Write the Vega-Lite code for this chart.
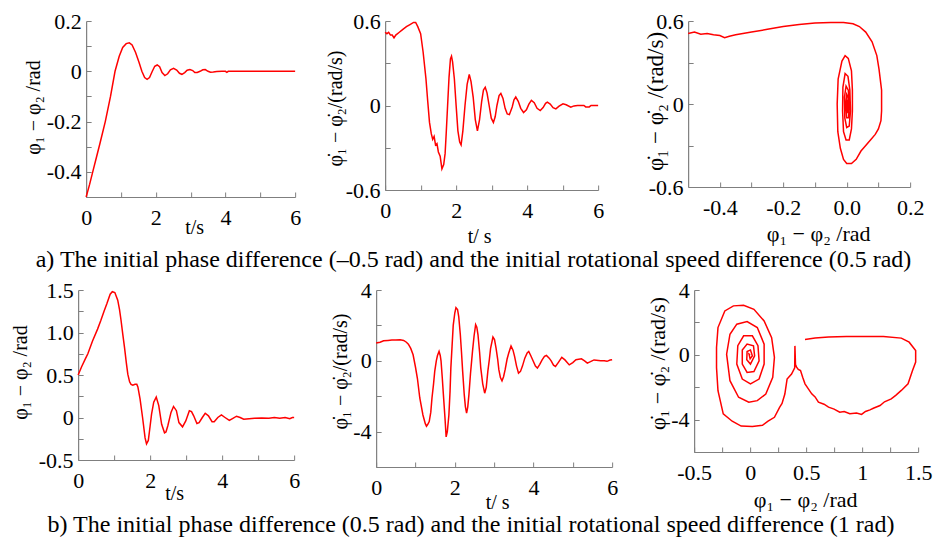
{
  "$schema": "https://vega.github.io/schema/vega-lite/v6.json",
  "background": "white",
  "padding": {"left": 10, "top": 10, "right": 5, "bottom": 5},
  "config": {
    "font": "Liberation Serif",
    "view": {"stroke": null},
    "axis": {"grid": false, "domainColor": "#7f7f7f", "domainWidth": 1.2, "tickColor": "#7f7f7f", "tickSize": -5, "tickWidth": 1, "labelFont": "Liberation Serif", "labelFontSize": 22, "labelColor": "#000000", "labelFlush": false, "labelOverlap": false, "titleFont": "Liberation Serif", "titleFontSize": 20, "titleFontWeight": "normal", "titleColor": "#000000", "titleAlign": "center", "titleBaseline": "middle"},
    "axisX": {"labelPadding": 15},
    "axisY": {"labelPadding": 10},
    "title": {"font": "Liberation Serif", "fontSize": 24, "fontWeight": "normal", "color": "#000000"}
  },
  "datasets": {
    "a1": [
      {"t":0,"v":-0.5},{"t":0.1,"v":-0.45},{"t":0.19,"v":-0.4},{"t":0.3,"v":-0.34},{"t":0.4,"v":-0.285},{"t":0.55,"v":-0.2},{"t":0.7,"v":-0.1},{"t":0.83,"v":0},{"t":0.95,"v":0.06},{"t":1.05,"v":0.095},{"t":1.15,"v":0.11},{"t":1.24,"v":0.113},{"t":1.32,"v":0.105},{"t":1.42,"v":0.075},{"t":1.52,"v":0.035},{"t":1.6,"v":0},{"t":1.68,"v":-0.025},{"t":1.75,"v":-0.032},{"t":1.82,"v":-0.025},{"t":1.9,"v":0},{"t":1.97,"v":0.02},{"t":2.04,"v":0.025},{"t":2.11,"v":0.018},{"t":2.18,"v":-0.005},{"t":2.26,"v":-0.017},{"t":2.34,"v":-0.01},{"t":2.42,"v":0.006},{"t":2.51,"v":0.012},{"t":2.6,"v":0.005},{"t":2.68,"v":-0.008},{"t":2.75,"v":-0.012},{"t":2.83,"v":-0.005},{"t":2.9,"v":0.004},{"t":2.98,"v":0.007},{"t":3.06,"v":0.003},{"t":3.12,"v":-0.005},{"t":3.19,"v":-0.005},{"t":3.27,"v":0},{"t":3.35,"v":0.006},{"t":3.42,"v":0.007},{"t":3.5,"v":0},{"t":3.57,"v":-0.004},{"t":3.65,"v":-0.003},{"t":3.75,"v":-0.001},{"t":3.9,"v":0},{"t":4.0,"v":0},{"t":4.04,"v":-0.004},{"t":4.08,"v":0},{"t":4.5,"v":0},{"t":5,"v":0},{"t":5.5,"v":0},{"t":6,"v":0}
    ],
    "a2": [
      {"t":0,"v":0.52},{"t":0.05,"v":0.51},{"t":0.1,"v":0.52},{"t":0.15,"v":0.5},{"t":0.2,"v":0.5},{"t":0.25,"v":0.48},{"t":0.3,"v":0.5},{"t":0.4,"v":0.52},{"t":0.5,"v":0.54},{"t":0.6,"v":0.56},{"t":0.7,"v":0.575},{"t":0.8,"v":0.59},{"t":0.86,"v":0.59},{"t":0.92,"v":0.56},{"t":1.0,"v":0.51},{"t":1.07,"v":0.38},{"t":1.15,"v":0.19},{"t":1.2,"v":0.03},{"t":1.25,"v":-0.12},{"t":1.3,"v":-0.2},{"t":1.34,"v":-0.24},{"t":1.38,"v":-0.22},{"t":1.42,"v":-0.28},{"t":1.46,"v":-0.27},{"t":1.5,"v":-0.33},{"t":1.55,"v":-0.36},{"t":1.6,"v":-0.45},{"t":1.65,"v":-0.42},{"t":1.69,"v":-0.34},{"t":1.72,"v":-0.2},{"t":1.76,"v":0},{"t":1.8,"v":0.2},{"t":1.84,"v":0.33},{"t":1.87,"v":0.35},{"t":1.9,"v":0.31},{"t":1.95,"v":0.19},{"t":2.0,"v":0},{"t":2.05,"v":-0.18},{"t":2.1,"v":-0.26},{"t":2.14,"v":-0.28},{"t":2.19,"v":-0.18},{"t":2.25,"v":0},{"t":2.31,"v":0.15},{"t":2.37,"v":0.22},{"t":2.42,"v":0.17},{"t":2.48,"v":0.06},{"t":2.54,"v":-0.1},{"t":2.6,"v":-0.18},{"t":2.66,"v":-0.1},{"t":2.72,"v":0.03},{"t":2.77,"v":0.11},{"t":2.82,"v":0.13},{"t":2.87,"v":0.09},{"t":2.93,"v":0},{"t":2.99,"v":-0.09},{"t":3.05,"v":-0.12},{"t":3.1,"v":-0.08},{"t":3.15,"v":0},{"t":3.21,"v":0.07},{"t":3.26,"v":0.085},{"t":3.32,"v":0.05},{"t":3.38,"v":-0.02},{"t":3.44,"v":-0.06},{"t":3.5,"v":-0.065},{"t":3.58,"v":-0.01},{"t":3.63,"v":0.04},{"t":3.68,"v":0.06},{"t":3.75,"v":0.03},{"t":3.82,"v":-0.02},{"t":3.9,"v":-0.05},{"t":3.98,"v":-0.03},{"t":4.05,"v":0.01},{"t":4.12,"v":0.036},{"t":4.2,"v":0.02},{"t":4.28,"v":-0.02},{"t":4.37,"v":-0.036},{"t":4.45,"v":-0.015},{"t":4.52,"v":0.015},{"t":4.57,"v":0.024},{"t":4.65,"v":0.01},{"t":4.73,"v":-0.015},{"t":4.81,"v":-0.024},{"t":4.9,"v":-0.005},{"t":5.01,"v":0.012},{"t":5.1,"v":0.005},{"t":5.23,"v":-0.012},{"t":5.32,"v":-0.003},{"t":5.42,"v":0},{"t":5.6,"v":0},{"t":5.65,"v":-0.01},{"t":5.75,"v":-0.01},{"t":5.8,"v":0},{"t":6,"v":0}
    ],
    "a3": [
      {"i":0,"p":-0.5,"w":0.51},{"i":1,"p":-0.48,"w":0.52},{"i":2,"p":-0.46,"w":0.505},{"i":3,"p":-0.44,"w":0.51},{"i":4,"p":-0.42,"w":0.5},{"i":5,"p":-0.4,"w":0.495},{"i":6,"p":-0.385,"w":0.48},{"i":7,"p":-0.37,"w":0.49},{"i":8,"p":-0.35,"w":0.5},{"i":9,"p":-0.3,"w":0.52},{"i":10,"p":-0.25,"w":0.54},{"i":11,"p":-0.2,"w":0.56},{"i":12,"p":-0.15,"w":0.575},{"i":13,"p":-0.1,"w":0.585},{"i":14,"p":-0.05,"w":0.59},{"i":15,"p":-0.01,"w":0.59},{"i":16,"p":0.02,"w":0.58},{"i":17,"p":0.04,"w":0.56},{"i":18,"p":0.06,"w":0.52},{"i":19,"p":0.08,"w":0.45},{"i":20,"p":0.095,"w":0.35},{"i":21,"p":0.102,"w":0.25},{"i":22,"p":0.11,"w":0.1},{"i":23,"p":0.11,"w":-0.05},{"i":24,"p":0.108,"w":-0.12},{"i":25,"p":0.1,"w":-0.18},{"i":26,"p":0.09,"w":-0.22},{"i":27,"p":0.075,"w":-0.26},{"i":28,"p":0.06,"w":-0.3},{"i":29,"p":0.045,"w":-0.34},{"i":30,"p":0.03,"w":-0.4},{"i":31,"p":0.015,"w":-0.43},{"i":32,"p":0.0,"w":-0.43},{"i":33,"p":-0.01,"w":-0.4},{"i":34,"p":-0.02,"w":-0.32},{"i":35,"p":-0.028,"w":-0.2},{"i":36,"p":-0.03,"w":0.0},{"i":37,"p":-0.027,"w":0.18},{"i":38,"p":-0.015,"w":0.31},{"i":39,"p":-0.005,"w":0.35},{"i":40,"p":0.005,"w":0.33},{"i":41,"p":0.015,"w":0.24},{"i":42,"p":0.018,"w":0.1},{"i":43,"p":0.018,"w":-0.05},{"i":44,"p":0.015,"w":-0.18},{"i":45,"p":0.008,"w":-0.26},{"i":46,"p":-0.002,"w":-0.26},{"i":47,"p":-0.01,"w":-0.2},{"i":48,"p":-0.013,"w":-0.05},{"i":49,"p":-0.012,"w":0.12},{"i":50,"p":-0.005,"w":0.22},{"i":51,"p":0.004,"w":0.2},{"i":52,"p":0.01,"w":0.1},{"i":53,"p":0.012,"w":-0.05},{"i":54,"p":0.008,"w":-0.16},{"i":55,"p":0.0,"w":-0.17},{"i":56,"p":-0.006,"w":-0.1},{"i":57,"p":-0.007,"w":0.05},{"i":58,"p":-0.002,"w":0.13},{"i":59,"p":0.005,"w":0.1},{"i":60,"p":0.008,"w":0.0},{"i":61,"p":0.006,"w":-0.1},{"i":62,"p":0.0,"w":-0.1},{"i":63,"p":-0.003,"w":0.0},{"i":64,"p":0.0,"w":0.07},{"i":65,"p":0.004,"w":0.05},{"i":66,"p":0.005,"w":-0.05},{"i":67,"p":0.002,"w":-0.06},{"i":68,"p":0.001,"w":0.0},{"i":69,"p":0.003,"w":0.03},{"i":70,"p":0.003,"w":0.0}
    ],
    "b1": [
      {"t":0,"v":0.5},{"t":0.1,"v":0.6},{"t":0.2,"v":0.69},{"t":0.27,"v":0.75},{"t":0.4,"v":0.9},{"t":0.54,"v":1.04},{"t":0.63,"v":1.14},{"t":0.72,"v":1.25},{"t":0.8,"v":1.34},{"t":0.89,"v":1.45},{"t":0.95,"v":1.48},{"t":1.02,"v":1.47},{"t":1.1,"v":1.38},{"t":1.15,"v":1.27},{"t":1.19,"v":1.15},{"t":1.24,"v":0.98},{"t":1.29,"v":0.82},{"t":1.34,"v":0.64},{"t":1.38,"v":0.51},{"t":1.43,"v":0.42},{"t":1.47,"v":0.39},{"t":1.52,"v":0.38},{"t":1.58,"v":0.39},{"t":1.63,"v":0.39},{"t":1.66,"v":0.36},{"t":1.72,"v":0.22},{"t":1.79,"v":0},{"t":1.86,"v":-0.24},{"t":1.9,"v":-0.31},{"t":1.95,"v":-0.27},{"t":2.0,"v":-0.1},{"t":2.04,"v":0.04},{"t":2.1,"v":0.18},{"t":2.17,"v":0.24},{"t":2.24,"v":0.14},{"t":2.32,"v":-0.08},{"t":2.4,"v":-0.18},{"t":2.44,"v":-0.17},{"t":2.49,"v":-0.1},{"t":2.58,"v":0.06},{"t":2.65,"v":0.13},{"t":2.73,"v":0.08},{"t":2.8,"v":-0.06},{"t":2.9,"v":-0.11},{"t":2.99,"v":-0.04},{"t":3.09,"v":0.08},{"t":3.15,"v":0.07},{"t":3.21,"v":0.02},{"t":3.3,"v":-0.07},{"t":3.36,"v":-0.06},{"t":3.45,"v":0},{"t":3.53,"v":0.05},{"t":3.62,"v":0.02},{"t":3.72,"v":-0.05},{"t":3.78,"v":-0.05},{"t":3.88,"v":0},{"t":3.98,"v":0.03},{"t":4.08,"v":0},{"t":4.2,"v":-0.035},{"t":4.3,"v":-0.01},{"t":4.4,"v":0.015},{"t":4.5,"v":0},{"t":4.6,"v":-0.02},{"t":4.75,"v":-0.015},{"t":4.9,"v":-0.01},{"t":5.1,"v":-0.005},{"t":5.3,"v":-0.01},{"t":5.45,"v":0},{"t":5.6,"v":-0.01},{"t":5.75,"v":0},{"t":5.88,"v":-0.015},{"t":5.95,"v":0},{"t":6,"v":0}
    ],
    "b2": [
      {"t":0,"v":1.0},{"t":0.1,"v":1.05},{"t":0.19,"v":1.13},{"t":0.3,"v":1.15},{"t":0.4,"v":1.17},{"t":0.5,"v":1.18},{"t":0.61,"v":1.19},{"t":0.7,"v":1.15},{"t":0.77,"v":1.05},{"t":0.82,"v":0.94},{"t":0.88,"v":0.7},{"t":0.94,"v":0.34},{"t":1.0,"v":-0.35},{"t":1.05,"v":-1.0},{"t":1.11,"v":-2.1},{"t":1.19,"v":-3.06},{"t":1.25,"v":-3.55},{"t":1.28,"v":-3.7},{"t":1.31,"v":-3.6},{"t":1.35,"v":-3.43},{"t":1.39,"v":-2.9},{"t":1.42,"v":-2.1},{"t":1.46,"v":-1.3},{"t":1.49,"v":-0.6},{"t":1.53,"v":0},{"t":1.56,"v":0.3},{"t":1.6,"v":0.53},{"t":1.63,"v":0.3},{"t":1.65,"v":0},{"t":1.68,"v":-0.9},{"t":1.71,"v":-1.9},{"t":1.75,"v":-3.2},{"t":1.78,"v":-4.3},{"t":1.81,"v":-4.0},{"t":1.85,"v":-3.06},{"t":1.88,"v":-1.7},{"t":1.9,"v":-0.4},{"t":1.93,"v":0.8},{"t":1.96,"v":2.0},{"t":2.0,"v":2.7},{"t":2.03,"v":3.0},{"t":2.07,"v":2.9},{"t":2.1,"v":2.5},{"t":2.14,"v":1.5},{"t":2.17,"v":0.5},{"t":2.2,"v":-0.6},{"t":2.24,"v":-1.9},{"t":2.27,"v":-2.6},{"t":2.3,"v":-2.96},{"t":2.33,"v":-2.6},{"t":2.36,"v":-1.9},{"t":2.4,"v":-0.7},{"t":2.45,"v":0.53},{"t":2.49,"v":1.4},{"t":2.53,"v":2.04},{"t":2.56,"v":1.9},{"t":2.59,"v":1.47},{"t":2.63,"v":0.5},{"t":2.66,"v":-0.4},{"t":2.71,"v":-1.3},{"t":2.76,"v":-1.83},{"t":2.8,"v":-1.5},{"t":2.84,"v":-0.6},{"t":2.88,"v":0.1},{"t":2.91,"v":0.7},{"t":2.97,"v":1.34},{"t":3.01,"v":1.2},{"t":3.05,"v":0.7},{"t":3.09,"v":0.1},{"t":3.12,"v":-0.5},{"t":3.16,"v":-0.95},{"t":3.2,"v":-1.13},{"t":3.24,"v":-0.9},{"t":3.28,"v":-0.5},{"t":3.33,"v":0.1},{"t":3.37,"v":0.43},{"t":3.43,"v":0.83},{"t":3.48,"v":0.6},{"t":3.52,"v":0.25},{"t":3.57,"v":-0.3},{"t":3.62,"v":-0.7},{"t":3.67,"v":-0.6},{"t":3.72,"v":-0.3},{"t":3.78,"v":0.15},{"t":3.84,"v":0.45},{"t":3.88,"v":0.53},{"t":3.93,"v":0.3},{"t":3.99,"v":0},{"t":4.05,"v":-0.3},{"t":4.1,"v":-0.41},{"t":4.16,"v":-0.2},{"t":4.22,"v":0.05},{"t":4.28,"v":0.25},{"t":4.33,"v":0.3},{"t":4.4,"v":0.15},{"t":4.45,"v":0},{"t":4.51,"v":-0.25},{"t":4.56,"v":-0.32},{"t":4.63,"v":-0.1},{"t":4.72,"v":0.19},{"t":4.8,"v":0.05},{"t":4.91,"v":-0.23},{"t":5.0,"v":-0.1},{"t":5.08,"v":0.06},{"t":5.22,"v":0.11},{"t":5.3,"v":0},{"t":5.37,"v":-0.13},{"t":5.45,"v":-0.05},{"t":5.54,"v":0.05},{"t":5.71,"v":0},{"t":5.8,"v":0},{"t":5.87,"v":-0.03},{"t":5.95,"v":0.04},{"t":6,"v":0.06}
    ],
    "b3": [
      {"i":0,"p":0.49,"w":0.95},{"i":1,"p":0.58,"w":1.03},{"i":2,"p":0.7,"w":1.1},{"i":3,"p":0.86,"w":1.13},{"i":4,"p":1.0,"w":1.13},{"i":5,"p":1.19,"w":1.13},{"i":6,"p":1.35,"w":1.03},{"i":7,"p":1.42,"w":0.78},{"i":8,"p":1.478,"w":0.27},{"i":9,"p":1.478,"w":-0.45},{"i":10,"p":1.45,"w":-0.97},{"i":11,"p":1.41,"w":-1.79},{"i":12,"p":1.35,"w":-2.2},{"i":13,"p":1.3,"w":-2.5},{"i":14,"p":1.26,"w":-2.72},{"i":15,"p":1.2,"w":-2.9},{"i":16,"p":1.16,"w":-3.13},{"i":17,"p":1.1,"w":-3.3},{"i":18,"p":1.07,"w":-3.4},{"i":19,"p":1.03,"w":-3.5},{"i":20,"p":0.995,"w":-3.68},{"i":21,"p":0.95,"w":-3.6},{"i":22,"p":0.89,"w":-3.64},{"i":23,"p":0.84,"w":-3.5},{"i":24,"p":0.8,"w":-3.54},{"i":25,"p":0.75,"w":-3.35},{"i":26,"p":0.7,"w":-3.23},{"i":27,"p":0.66,"w":-3.05},{"i":28,"p":0.61,"w":-2.92},{"i":29,"p":0.58,"w":-2.6},{"i":30,"p":0.55,"w":-2.41},{"i":31,"p":0.52,"w":-2.1},{"i":32,"p":0.49,"w":-1.79},{"i":33,"p":0.47,"w":-1.4},{"i":34,"p":0.45,"w":-0.97},{"i":35,"p":0.43,"w":-0.9},{"i":36,"p":0.415,"w":-0.76},{"i":37,"p":0.405,"w":-0.6},{"i":38,"p":0.4,"w":0.55},{"i":39,"p":0.398,"w":-0.8},{"i":40,"p":0.37,"w":-1.19},{"i":41,"p":0.33,"w":-1.5},{"i":42,"p":0.31,"w":-2.42},{"i":43,"p":0.285,"w":-3.0},{"i":44,"p":0.263,"w":-3.24},{"i":45,"p":0.217,"w":-3.86},{"i":46,"p":0.16,"w":-4.1},{"i":47,"p":0.11,"w":-4.35},{"i":48,"p":0.02,"w":-4.43},{"i":49,"p":-0.08,"w":-4.4},{"i":50,"p":-0.16,"w":-4.1},{"i":51,"p":-0.24,"w":-3.65},{"i":52,"p":-0.287,"w":-2.22},{"i":53,"p":-0.3,"w":-0.8},{"i":54,"p":-0.3,"w":0.45},{"i":55,"p":-0.287,"w":1.68},{"i":56,"p":-0.226,"w":2.71},{"i":57,"p":-0.149,"w":3.02},{"i":58,"p":-0.058,"w":3.06},{"i":59,"p":0.034,"w":2.81},{"i":60,"p":0.125,"w":2.09},{"i":61,"p":0.192,"w":1.06},{"i":62,"p":0.217,"w":-0.16},{"i":63,"p":0.202,"w":-1.39},{"i":64,"p":0.14,"w":-2.42},{"i":65,"p":0.064,"w":-2.83},{"i":66,"p":-0.012,"w":-2.93},{"i":67,"p":-0.103,"w":-2.62},{"i":68,"p":-0.18,"w":-1.6},{"i":69,"p":-0.21,"w":0.04},{"i":70,"p":-0.18,"w":1.27},{"i":71,"p":-0.119,"w":1.89},{"i":72,"p":-0.027,"w":2.05},{"i":73,"p":0.064,"w":1.68},{"i":74,"p":0.125,"w":0.66},{"i":75,"p":0.125,"w":-0.57},{"i":76,"p":0.08,"w":-1.5},{"i":77,"p":0.003,"w":-1.8},{"i":78,"p":-0.07,"w":-1.5},{"i":79,"p":-0.119,"w":-0.57},{"i":80,"p":-0.11,"w":0.56},{"i":81,"p":-0.058,"w":1.17},{"i":82,"p":0.02,"w":1.17},{"i":83,"p":0.07,"w":0.56},{"i":84,"p":0.08,"w":-0.37},{"i":85,"p":0.034,"w":-1.03},{"i":86,"p":-0.027,"w":-1.09},{"i":87,"p":-0.07,"w":-0.57},{"i":88,"p":-0.07,"w":0.29},{"i":89,"p":-0.027,"w":0.66},{"i":90,"p":0.03,"w":0.56},{"i":91,"p":0.04,"w":-0.06},{"i":92,"p":0.003,"w":-0.57},{"i":93,"p":-0.03,"w":-0.3},{"i":94,"p":-0.027,"w":0.2},{"i":95,"p":0.003,"w":0.3},{"i":96,"p":0.02,"w":-0.06},{"i":97,"p":0.0,"w":-0.25},{"i":98,"p":-0.01,"w":0.05},{"i":99,"p":0.0,"w":0.0}
    ]
  },
  "vconcat": [
    {
      "hconcat": [
        {
          "width": 209, "height": 176,
          "data": {"name": "a1"},
          "mark": {"type": "line", "color": "#ff0000", "strokeWidth": 1.5},
          "encoding": {
            "x": {"field": "t", "type": "quantitative", "scale": {"domain": [0, 6], "nice": false, "zero": false},
              "axis": {"values": [0,1,2,3,4,5,6], "labelExpr": "datum.value % 2 == 0 ? datum.label : ''", "title": "t/s", "titleX": 108, "titleY": 30}},
            "y": {"field": "v", "type": "quantitative", "scale": {"domain": [-0.5, 0.2], "nice": false, "zero": false},
              "axis": {"values": [-0.5,-0.4,-0.3,-0.2,-0.1,0,0.1,0.2], "labelExpr": "datum.value == 0 ? '0' : (round(datum.value*10) % 2 != 0 ? '' : (datum.value < 0 ? '-' : '') + format(abs(datum.value), '.1f'))", "title": "φ₁ − φ₂ /rad", "titleX": -53, "titleY": 86}}
          }
        },
        {
          "width": 213, "height": 169,
          "data": {"name": "a2"},
          "mark": {"type": "line", "color": "#ff0000", "strokeWidth": 1.5},
          "encoding": {
            "x": {"field": "t", "type": "quantitative", "scale": {"domain": [0, 6], "nice": false, "zero": false},
              "axis": {"values": [0,1,2,3,4,5,6], "labelExpr": "datum.value % 2 == 0 ? datum.label : ''", "title": "t/ s", "titleX": 94, "titleY": 46}},
            "y": {"field": "v", "type": "quantitative", "scale": {"domain": [-0.6, 0.6], "nice": false, "zero": false},
              "axis": {"values": [-0.6,-0.3,0,0.3,0.6], "labelExpr": "datum.value == 0 ? '0' : (abs(datum.value) < 0.5 ? '' : (datum.value < 0 ? '-' : '') + format(abs(datum.value), '.1f'))", "title": "φ\u0307₁ − φ\u0307₂/(rad/s)", "titleX": -50, "titleY": 87}}
          }
        },
        {
          "width": 222, "height": 166,
          "data": {"name": "a3"},
          "mark": {"type": "line", "color": "#ff0000", "strokeWidth": 1.5},
          "encoding": {
            "x": {"field": "p", "type": "quantitative", "scale": {"domain": [-0.5, 0.2], "nice": false, "zero": false},
              "axis": {"values": [-0.4,-0.3,-0.2,-0.1,0,0.1,0.2], "labelExpr": "round(datum.value*10) % 2 != 0 ? '' : (datum.value < 0 ? '-' : '') + format(abs(datum.value), '.1f')", "title": "φ₁ − φ₂ /rad", "titleFontSize": 22, "titleX": 130, "titleY": 46}},
            "y": {"field": "w", "type": "quantitative", "scale": {"domain": [-0.6, 0.6], "nice": false, "zero": false},
              "axis": {"values": [-0.6,-0.3,0,0.3,0.6], "labelExpr": "datum.value == 0 ? '0' : (abs(datum.value) < 0.5 ? '' : (datum.value < 0 ? '-' : '') + format(abs(datum.value), '.1f'))", "title": "φ\u0307₁ − φ\u0307₂ /(rad/s)", "titleFontSize": 23, "titleX": -33, "titleY": 80}},
            "order": {"field": "i", "type": "quantitative"}
          }
        }
      ],
      "spacing": 90,
      "bounds": "flush",
      "title": {"text": "a) The initial phase difference (–0.5 rad) and the initial rotational speed difference (0.5 rad)", "orient": "bottom", "anchor": "middle", "offset": 2}
    },
    {
      "hconcat": [
        {
          "width": 216, "height": 170,
          "data": {"name": "b1"},
          "mark": {"type": "line", "color": "#ff0000", "strokeWidth": 1.5},
          "encoding": {
            "x": {"field": "t", "type": "quantitative", "scale": {"domain": [0, 6], "nice": false, "zero": false},
              "axis": {"values": [0,1,2,3,4,5,6], "labelExpr": "datum.value % 2 == 0 ? datum.label : ''", "title": "t/s", "titleX": 96, "titleY": 33}},
            "y": {"field": "v", "type": "quantitative", "scale": {"domain": [-0.5, 1.5], "nice": false, "zero": false},
              "axis": {"values": [-0.5,-0.25,0,0.25,0.5,0.75,1,1.25,1.5], "labelExpr": "datum.value == 0 ? '0' : (round(datum.value*4) % 2 != 0 ? '' : (datum.value < 0 ? '-' : '') + format(abs(datum.value), '.1f'))", "title": "φ₁ − φ₂ /rad", "titleX": -58, "titleY": 82}}
          }
        },
        {
          "width": 236, "height": 177,
          "data": {"name": "b2"},
          "mark": {"type": "line", "color": "#ff0000", "strokeWidth": 1.5},
          "encoding": {
            "x": {"field": "t", "type": "quantitative", "scale": {"domain": [0, 6], "nice": false, "zero": false},
              "axis": {"values": [0,1,2,3,4,5,6], "labelExpr": "datum.value % 2 == 0 ? datum.label : ''", "title": "t/ s", "titleX": 121, "titleY": 35}},
            "y": {"field": "v", "type": "quantitative", "scale": {"domain": [-6, 4], "nice": false, "zero": false},
              "axis": {"values": [-6,-4,-2,0,2,4], "labelExpr": "datum.value == 4 ? '4' : datum.value == 0 ? '0' : datum.value == -4 ? '-4' : ''", "title": "φ\u0307₁ − φ\u0307₂/(rad/s)", "titleX": -36, "titleY": 81}}
          }
        },
        {
          "width": 224, "height": 162,
          "data": {"name": "b3"},
          "mark": {"type": "line", "color": "#ff0000", "strokeWidth": 1.5},
          "encoding": {
            "x": {"field": "p", "type": "quantitative", "scale": {"domain": [-0.5, 1.5], "nice": false, "zero": false},
              "axis": {"values": [-0.5,-0.25,0,0.25,0.5,0.75,1,1.25,1.5], "labelExpr": "datum.value == -0.5 ? '-0.5' : datum.value == 0 ? '0' : datum.value == 0.5 ? '0.5' : datum.value == 1 ? '1' : datum.value == 1.5 ? '1.5' : ''", "labelDx": 4, "title": "φ₁ − φ₂ /rad", "titleFontSize": 22, "titleX": 111, "titleY": 47}},
            "y": {"field": "w", "type": "quantitative", "scale": {"domain": [-6, 4], "nice": false, "zero": false},
              "axis": {"values": [-6,-4,-2,0,2,4], "labelExpr": "datum.value == 4 ? '4' : datum.value == 0 ? '0' : datum.value == -4 ? '-4' : ''", "title": "φ\u0307₁ − φ\u0307₂ /(rad/s)", "titleFontSize": 22, "titleX": -37, "titleY": 73}},
            "order": {"field": "i", "type": "quantitative"}
          }
        }
      ],
      "spacing": 82,
      "bounds": "flush",
      "title": {"text": "b) The initial phase difference (0.5 rad) and the initial rotational speed difference (1 rad)", "orient": "bottom", "anchor": "middle", "offset": 1}
    }
  ],
  "spacing": 7,
  "center": true
}
